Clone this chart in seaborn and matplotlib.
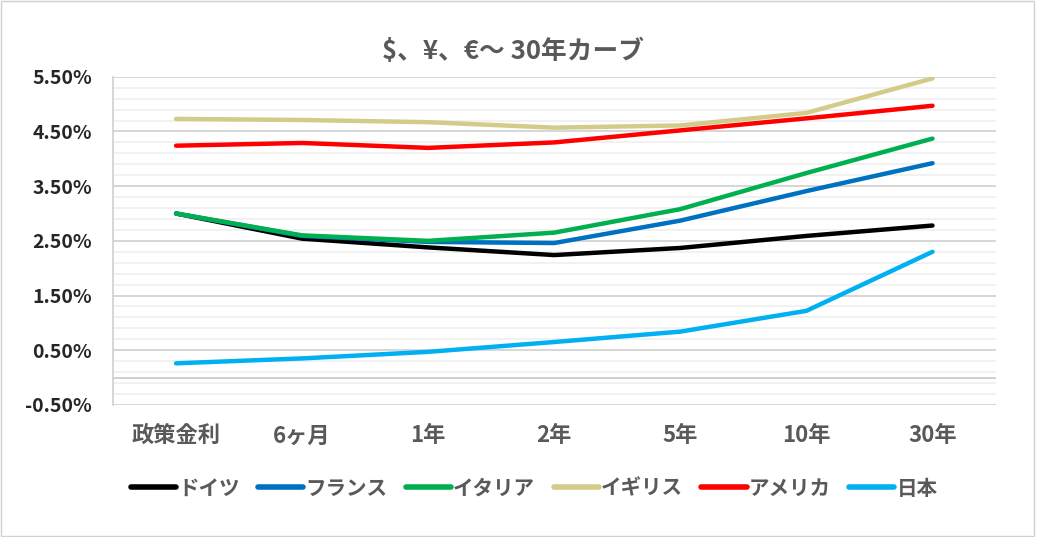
import numpy as np
import pandas as pd
import matplotlib
matplotlib.use("Agg")
import matplotlib.pyplot as plt
import seaborn as sns
from matplotlib.ticker import FixedLocator, FuncFormatter

# Data (percent)
maturities = ["政策金利", "6ヶ月", "1年", "2年", "5年", "10年", "30年"]
countries = ["ドイツ", "フランス", "イタリア", "イギリス", "アメリカ", "日本"]
germany = [3.00, 2.54, 2.38, 2.24, 2.37, 2.59, 2.78]
france = [3.00, 2.59, 2.48, 2.46, 2.87, 3.41, 3.92]
italy = [3.00, 2.60, 2.50, 2.65, 3.08, 3.74, 4.37]
uk = [4.73, 4.71, 4.67, 4.57, 4.61, 4.84, 5.47]
usa = [4.24, 4.29, 4.20, 4.30, 4.52, 4.74, 4.97]
japan = [0.26, 0.35, 0.47, 0.65, 0.84, 1.22, 2.30]
colors = ["#000000", "#0070C0", "#00B050", "#D2CC88", "#FF0000", "#00B0F0"]

series = [germany, france, italy, uk, usa, japan]
rows = []
for c, vals in zip(countries, series):
    for m, v in zip(maturities, vals):
        rows.append({"年限": m, "利回り": v, "国": c})
df = pd.DataFrame(rows)

sns.set_style("white")
plt.rcParams["font.family"] = ["Noto Sans CJK JP", "DejaVu Sans"]

fig = plt.figure(figsize=(10.37, 5.37), dpi=100)
ax = fig.add_axes([0.109, 0.246, 0.851, 0.611])

sns.lineplot(data=df, x="年限", y="利回り", hue="国", hue_order=countries,
             palette=colors, linewidth=3.2, sort=False, ax=ax, legend=True)

ax.set_xlim(-0.5, len(maturities) - 0.5)
ax.set_ylim(-0.5, 5.5)
ax.yaxis.set_major_locator(FixedLocator(np.arange(-0.5, 5.51, 1.0)))
ax.yaxis.set_minor_locator(FixedLocator(np.arange(-0.5, 5.51, 0.2)))
ax.yaxis.set_major_formatter(FuncFormatter(lambda v, p: f"{v:.2f}%"))
ax.grid(which="minor", axis="y", color="#EFEFEF", linewidth=1.2, zorder=0)
ax.grid(which="major", axis="y", color="#D6D6D6", linewidth=1.4, zorder=0)
ax.axhline(0, color="#D0D0D0", linewidth=1.4, zorder=0)
ax.set_axisbelow(True)

for s in ["top", "right", "bottom"]:
    ax.spines[s].set_visible(False)
ax.spines["left"].set_color("#D0D0D0")
ax.spines["left"].set_linewidth(1.2)

ax.tick_params(axis="y", which="both", length=0, pad=15, labelsize=14)
ax.tick_params(axis="x", length=0, pad=14, labelsize=16, labelcolor="#595959")
for t in ax.get_yticklabels():
    t.set_fontweight("bold")
for t in ax.get_xticklabels():
    t.set_fontweight("bold")
ax.set_xlabel("")
ax.set_ylabel("")

ax.legend_.remove()
handles, labels = ax.get_legend_handles_labels()
leg = fig.legend(handles, labels, loc="center", bbox_to_anchor=(0.515, 0.091),
                 ncol=6, frameon=False, handlelength=2.2, handletextpad=0.1,
                 columnspacing=0.9, prop={"weight": "bold", "size": 14.8})
for t in leg.get_texts():
    t.set_color("#595959")
for h in leg.legend_handles:
    h.set_linewidth(4)

fig.suptitle("$、¥、€～ 30年カーブ", x=0.495, y=0.93, fontsize=18.5,
             fontweight="bold", color="#595959")

fig.patches.append(plt.Rectangle((0.001, 0.002), 0.996, 0.996, transform=fig.transFigure,
                                 fill=False, edgecolor="#D0D0D0", linewidth=1))

fig.savefig("out.png", dpi=100)
